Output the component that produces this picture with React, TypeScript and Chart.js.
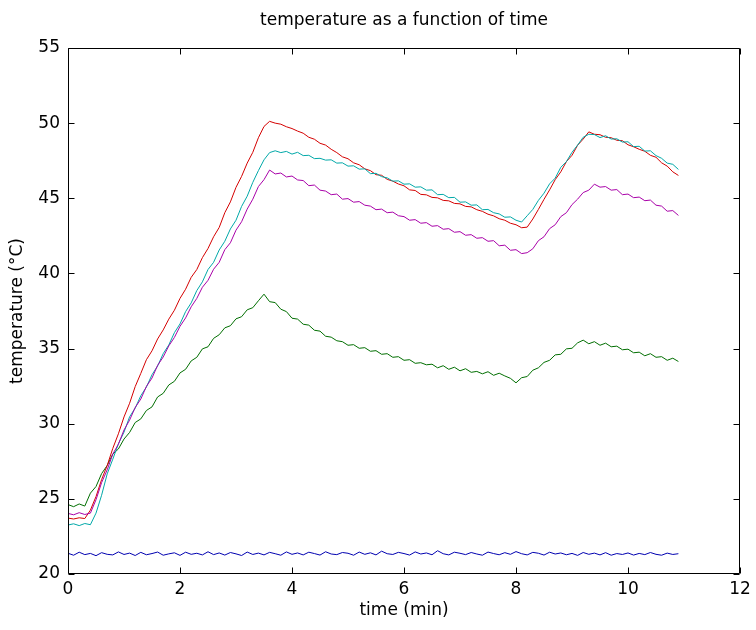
import React, { useEffect, useRef } from "react";
import { Chart, registerables } from "chart.js";

Chart.register(...registerables);

const TITLE = "temperature as a function of time";
const X_LABEL = "time (min)";
const Y_LABEL = "temperature (°C)";
const FONT = "'DejaVu Sans', 'Liberation Sans', sans-serif";

const X_MIN = 0, X_MAX = 12, X_STEP = 2;
const Y_MIN = 20, Y_MAX = 55, Y_STEP = 5;

const time = [
  0.0, 0.1, 0.2, 0.3, 0.4, 0.5, 0.6, 0.7, 0.8, 0.9,
  1.0, 1.1, 1.2, 1.3, 1.4, 1.5, 1.6, 1.7, 1.8, 1.9,
  2.0, 2.1, 2.2, 2.3, 2.4, 2.5, 2.6, 2.7, 2.8, 2.9,
  3.0, 3.1, 3.2, 3.3, 3.4, 3.5, 3.6, 3.7, 3.8, 3.9,
  4.0, 4.1, 4.2, 4.3, 4.4, 4.5, 4.6, 4.7, 4.8, 4.9,
  5.0, 5.1, 5.2, 5.3, 5.4, 5.5, 5.6, 5.7, 5.8, 5.9,
  6.0, 6.1, 6.2, 6.3, 6.4, 6.5, 6.6, 6.7, 6.8, 6.9,
  7.0, 7.1, 7.2, 7.3, 7.4, 7.5, 7.6, 7.7, 7.8, 7.9,
  8.0, 8.1, 8.2, 8.3, 8.4, 8.5, 8.6, 8.7, 8.8, 8.9,
  9.0, 9.1, 9.2, 9.3, 9.4, 9.5, 9.6, 9.7, 9.8, 9.9,
  10.0, 10.1, 10.2, 10.3, 10.4, 10.5, 10.6, 10.7, 10.8, 10.9,
];

const blueSeries = [
  21.38, 21.25, 21.45, 21.29, 21.37, 21.22, 21.42, 21.31, 21.27, 21.47,
  21.30, 21.39, 21.23, 21.44, 21.28, 21.36, 21.46, 21.25, 21.34, 21.41,
  21.24, 21.45, 21.31, 21.38, 21.27, 21.48, 21.29, 21.40, 21.26, 21.43,
  21.34, 21.23, 21.46, 21.30, 21.39, 21.27, 21.44, 21.35, 21.25, 21.47,
  21.31, 21.40, 21.27, 21.45, 21.36, 21.26, 21.48, 21.33, 21.29, 21.43,
  21.38, 21.25, 21.46, 21.31, 21.41, 21.27, 21.52, 21.35, 21.30, 21.44,
  21.36, 21.26, 21.47, 21.33, 21.40, 21.28, 21.55, 21.35, 21.27, 21.45,
  21.38, 21.29, 21.43, 21.33, 21.25, 21.46, 21.36, 21.28, 21.42, 21.31,
  21.49, 21.35, 21.27, 21.44, 21.38, 21.26, 21.45, 21.33, 21.40, 21.28,
  21.37, 21.24, 21.43, 21.31, 21.39, 21.27, 21.42, 21.25, 21.36, 21.30,
  21.40, 21.26, 21.37, 21.29, 21.43, 21.31, 21.25, 21.39, 21.30, 21.35,
];

const greenSeries = [
  24.62, 24.48, 24.66, 24.52, 25.38, 25.82, 26.68, 27.22, 27.98, 28.32,
  28.98, 29.42, 30.08, 30.32, 30.88, 31.12, 31.78, 32.02, 32.58, 32.82,
  33.38, 33.62, 34.18, 34.42, 34.98, 35.12, 35.68, 35.92, 36.38, 36.52,
  36.98, 37.12, 37.58, 37.72, 38.18, 38.62, 38.12, 38.06, 37.62, 37.46,
  37.02, 36.96, 36.62, 36.56, 36.22, 36.16, 35.82, 35.76, 35.52, 35.46,
  35.22, 35.26, 35.02, 35.06, 34.82, 34.86, 34.62, 34.66, 34.42, 34.46,
  34.22, 34.26, 34.02, 34.06, 33.92, 33.96, 33.72, 33.86, 33.62, 33.76,
  33.52, 33.66, 33.42, 33.48, 33.32, 33.46, 33.22, 33.36, 33.18, 33.02,
  32.72, 33.06, 33.14, 33.56, 33.72, 34.08, 34.22, 34.58, 34.62, 34.98,
  35.02, 35.38, 35.56, 35.32, 35.46, 35.22, 35.36, 35.12, 35.16, 34.92,
  34.96, 34.72, 34.76, 34.52, 34.66, 34.42, 34.46, 34.22, 34.36, 34.14,
];

const redSeries = [
  23.72, 23.66, 23.74, 23.69, 24.25, 25.15, 26.28, 27.22, 28.36, 29.33,
  30.45, 31.36, 32.47, 33.35, 34.26, 34.85, 35.64, 36.24, 36.96, 37.55,
  38.34, 38.95, 39.74, 40.26, 41.05, 41.66, 42.44, 43.06, 44.04, 44.76,
  45.73, 46.46, 47.34, 48.06, 49.03, 49.78, 50.12, 50.0, 49.93, 49.76,
  49.64, 49.47, 49.33, 49.06, 48.93, 48.66, 48.54, 48.26, 48.04, 47.76,
  47.63, 47.36, 47.23, 46.96, 46.84, 46.57, 46.53, 46.26, 46.14, 45.95,
  45.83, 45.56, 45.52, 45.26, 45.23, 45.06, 45.03, 44.86, 44.83, 44.66,
  44.63, 44.46, 44.43, 44.24, 44.13, 43.94, 43.83, 43.64, 43.54, 43.34,
  43.24, 43.04, 43.08, 43.62, 44.26, 44.93, 45.56, 46.24, 46.76, 47.44,
  47.86, 48.53, 48.94, 49.42, 49.26, 49.23, 49.06, 49.03, 48.86, 48.83,
  48.56, 48.43, 48.26, 48.13, 47.86, 47.73, 47.36, 47.14, 46.76, 46.52,
];

const cyanSeries = [
  23.26, 23.34, 23.22, 23.36, 23.28, 24.05, 25.24, 26.66, 27.64, 28.66,
  29.44, 30.46, 31.04, 31.86, 32.44, 33.26, 33.84, 34.66, 35.24, 36.06,
  36.64, 37.46, 38.04, 38.86, 39.44, 40.26, 40.74, 41.56, 42.14, 42.96,
  43.54, 44.46, 45.14, 46.06, 46.84, 47.56, 48.04, 48.16, 48.04, 48.12,
  47.94, 48.06, 47.84, 47.86, 47.64, 47.66, 47.54, 47.56, 47.34, 47.36,
  47.14, 47.16, 46.94, 46.96, 46.64, 46.66, 46.44, 46.36, 46.14, 46.16,
  45.94, 45.96, 45.74, 45.76, 45.54, 45.56, 45.24, 45.26, 45.04, 45.06,
  44.74, 44.76, 44.54, 44.56, 44.24, 44.26, 44.04, 43.96, 43.74, 43.76,
  43.54, 43.42, 43.84, 44.26, 44.86, 45.34, 45.96, 46.34, 47.06, 47.44,
  48.06, 48.54, 49.06, 49.26, 49.24, 49.04, 49.16, 48.94, 48.96, 48.74,
  48.76, 48.44, 48.46, 48.14, 48.16, 47.84, 47.66, 47.34, 47.26, 46.92,
];

const magentaSeries = [
  24.03, 23.94, 24.08, 23.96, 24.05, 24.94, 26.08, 26.93, 27.98, 28.64,
  29.58, 30.24, 31.08, 31.64, 32.48, 33.04, 33.88, 34.44, 35.18, 35.74,
  36.48, 37.04, 37.78, 38.34, 39.08, 39.54, 40.28, 40.74, 41.58, 42.04,
  42.88, 43.44, 44.28, 44.94, 45.78, 46.24, 46.88, 46.62, 46.68, 46.42,
  46.48, 46.22, 46.18, 45.84, 45.88, 45.54, 45.48, 45.24, 45.28, 44.94,
  44.98, 44.74, 44.78, 44.54, 44.48, 44.24, 44.28, 44.04, 44.08, 43.84,
  43.78, 43.54, 43.58, 43.34, 43.38, 43.14, 43.18, 42.94, 42.98, 42.74,
  42.78, 42.54, 42.58, 42.34, 42.38, 42.14, 42.18, 41.84, 41.88, 41.54,
  41.58, 41.32, 41.38, 41.64, 42.18, 42.44, 42.98, 43.24, 43.78, 44.04,
  44.58, 44.94, 45.38, 45.54, 45.94, 45.74, 45.78, 45.54, 45.58, 45.24,
  45.28, 45.04, 45.08, 44.84, 44.88, 44.54, 44.48, 44.14, 44.18, 43.86,
];

const seriesNames = ["magenta", "cyan", "red", "green", "blue"];
const seriesValues = [magentaSeries, cyanSeries, redSeries, greenSeries, blueSeries];
const seriesColors = ["#a800a8", "#00a8a8", "#d40000", "#006e00", "#0000b0"];

const boxAndTicks = {
  id: "boxAndTicks",
  afterDatasetsDraw(chart: any) {
    const { ctx, chartArea, scales } = chart;
    const { left, right, top, bottom } = chartArea;
    const L = Math.round(left) + 0.5;
    const R = Math.round(right) - 0.5;
    const T = Math.round(top) + 0.5;
    const B = Math.round(bottom) - 0.5;
    const len = 6;
    ctx.save();
    ctx.strokeStyle = "#000";
    ctx.lineWidth = 1;
    ctx.beginPath();
    ctx.rect(L, T, R - L, B - T);
    scales.x.ticks.forEach((t: any) => {
      const px = Math.round(scales.x.getPixelForValue(t.value)) + 0.5;
      ctx.moveTo(px, B);
      ctx.lineTo(px, B - len);
      ctx.moveTo(px, T);
      ctx.lineTo(px, T + len);
    });
    scales.y.ticks.forEach((t: any) => {
      const py = Math.round(scales.y.getPixelForValue(t.value)) + 0.5;
      ctx.moveTo(L, py);
      ctx.lineTo(L + len, py);
      ctx.moveTo(R, py);
      ctx.lineTo(R - len, py);
    });
    ctx.stroke();
    ctx.restore();
  },
};

export default function App() {
  const canvasRef = useRef<HTMLCanvasElement | null>(null);

  useEffect(() => {
    const canvas = canvasRef.current;
    if (!canvas) return;
    const datasets = seriesNames.map((name, i) => ({
      label: name,
      data: time.map((t, j) => ({ x: t, y: seriesValues[i][j] })),
      borderColor: seriesColors[i],
      backgroundColor: seriesColors[i],
      borderWidth: 1,
      pointRadius: 0,
      tension: 0,
      fill: false,
    }));
    const font = { family: FONT, size: 17, weight: "normal" as const };
    const chart = new Chart(canvas, {
      type: "line",
      data: { datasets },
      options: {
        responsive: false,
        animation: false,
        devicePixelRatio: 1,
        layout: { padding: { left: 0, right: 16, top: 0, bottom: 0 } },
        plugins: {
          legend: { display: false },
          tooltip: { enabled: false },
          title: {
            display: true,
            text: TITLE,
            fullSize: false,
            color: "#000",
            font,
            padding: { top: 10.3, bottom: 17.3 },
          },
        },
        scales: {
          x: {
            type: "linear",
            min: X_MIN,
            max: X_MAX,
            grid: { display: false, drawTicks: false },
            border: { display: false },
            ticks: {
              stepSize: X_STEP,
              color: "#000",
              font,
              padding: 5,
              maxRotation: 0,
              autoSkip: false,
            },
            title: {
              display: true,
              text: X_LABEL,
              color: "#000",
              font,
              padding: { top: 0, bottom: 8.8 },
            },
            afterFit: (s: any) => {
              s.height = 56;
            },
          },
          y: {
            type: "linear",
            min: Y_MIN,
            max: Y_MAX,
            grid: { display: false, drawTicks: false },
            border: { display: false },
            ticks: {
              stepSize: Y_STEP,
              color: "#000",
              font,
              padding: 8,
            },
            title: {
              display: true,
              text: Y_LABEL,
              color: "#000",
              font,
              padding: { top: 7.8, bottom: 0 },
            },
            afterFit: (s: any) => {
              s.width = 68;
            },
          },
        },
      },
      plugins: [boxAndTicks],
    });
    return () => chart.destroy();
  }, []);

  return (
    <div style={{ position: "absolute", left: 0, top: 0, width: 756, height: 630, background: "#fff" }}>
      <canvas ref={canvasRef} width={756} height={630} style={{ display: "block", width: 756, height: 630 }} />
    </div>
  );
}
